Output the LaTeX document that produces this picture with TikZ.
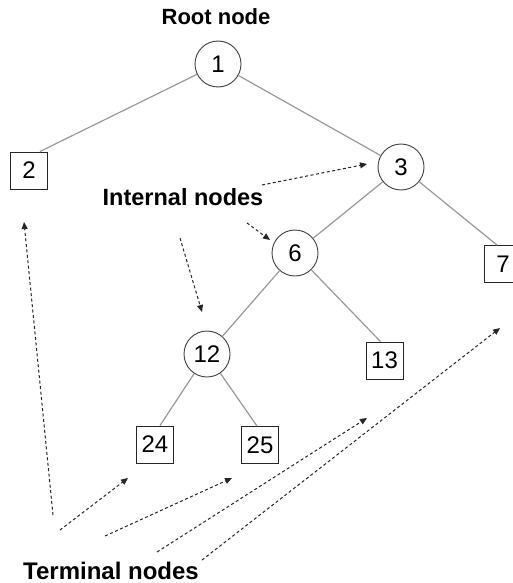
\documentclass[tikz,border=0pt]{standalone}
\usepackage{fontspec}
\setmainfont{Liberation Sans}
\usetikzlibrary{arrows.meta}
\begin{document}
\begin{tikzpicture}[x=1pt,y=-1pt,
  inner/.style={circle,draw=black!75,line width=0.9pt,minimum size=46pt,inner sep=0pt,
    font=\fontsize{24}{24}\selectfont},
  leaf/.style={rectangle,draw=black!85,line width=0.9pt,minimum size=37pt,inner sep=0pt,
    font=\fontsize{24}{24}\selectfont},
  branch/.style={draw=black!40,line width=1.2pt},
  pointer/.style={draw=black!85,line width=1pt,dash pattern=on 3pt off 2.5pt,
    -{Triangle[length=7pt,width=6pt]}},
  caption/.style={anchor=base,inner sep=0pt,font=\bfseries\fontsize{#1}{#1}\selectfont},
  caption/.default=22]
\fill[white] (0,0) rectangle (513,583);
\useasboundingbox (0,0) rectangle (513,583);

% tree nodes
\node[inner] (n1)  at (218,64)    {1};
\node[leaf]  (n2)  at (29,170.5)  {2};
\node[inner] (n3)  at (401,167)   {3};
\node[inner] (n6)  at (295,253)   {6};
\node[leaf]  (n7)  at (503,264)   {7};
\node[inner] (n12) at (207,354)   {12};
\node[leaf]  (n13) at (384.5,360.5) {13};
\node[leaf]  (n24) at (155,444.5) {24};
\node[leaf]  (n25) at (260,445)   {25};

% branches
\draw[branch] (n1) -- ([xshift=-8pt]n2.north east);
\draw[branch] (n1) -- (n3);
\draw[branch] (n3) -- (n6);
\draw[branch] (n3) -- ([xshift=-6pt]n7.north);
\draw[branch] (n6) -- (n12);
\draw[branch] (n6) -- ([xshift=-4pt]n13.north);
\draw[branch] (n12) -- ([xshift=5pt]n24.north);
\draw[branch] (n12) -- ([xshift=-3pt]n25.north);

% captions (placed on their baselines)
\node[caption=22]   (root) at (216,25)  {Root node};
\node[caption=23.5] (intl) at (183,205) {Internal nodes};
\node[caption=24]   (term) at (111,579) {Terminal nodes};

% pointer ends
\coordinate (i1s) at (262,185); \coordinate (i1e) at (367,164);
\coordinate (i2s) at (247,223); \coordinate (i2e) at (270,240);
\coordinate (i3s) at (180,238); \coordinate (i3e) at (202,312);
\coordinate (t1s) at (53,515);  \coordinate (t1e) at (24,222);
\coordinate (t2s) at (60,530);  \coordinate (t2e) at (128,478);
\coordinate (t3s) at (105,536); \coordinate (t3e) at (232,478);
\coordinate (t4s) at (157,552); \coordinate (t4e) at (367,418);
\coordinate (t5s) at (202,560); \coordinate (t5e) at (500,328);

% pointers from the captions
\draw[pointer] (i1s) -- (i1e);
\draw[pointer] (i2s) -- (i2e);
\draw[pointer] (i3s) -- (i3e);
\draw[pointer] (t1s) -- (t1e);
\draw[pointer] (t2s) -- (t2e);
\draw[pointer] (t3s) -- (t3e);
\draw[pointer] (t4s) -- (t4e);
\draw[pointer] (t5s) -- (t5e);
\end{tikzpicture}
\end{document}
